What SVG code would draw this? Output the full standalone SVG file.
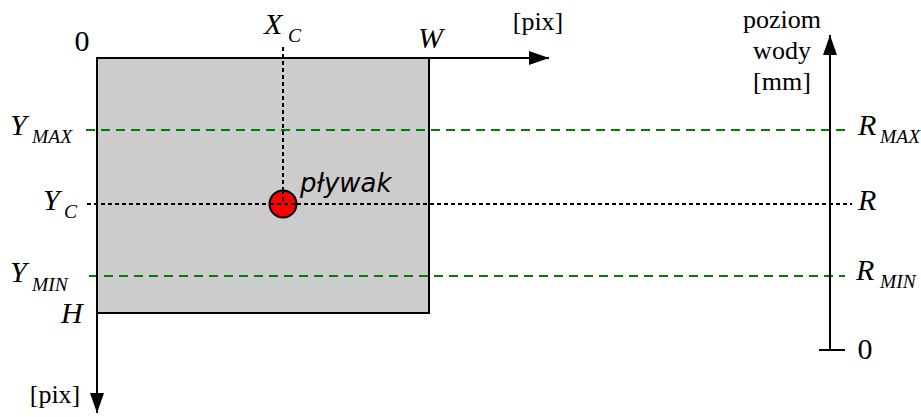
<svg xmlns="http://www.w3.org/2000/svg" width="921" height="417" viewBox="0 0 921 417">
<style>
.t{font-family:"Liberation Serif","DejaVu Serif",serif;fill:#000}
.i{font-style:italic;font-size:30px}
.s{font-style:italic;font-size:19.5px}
.n{font-size:26px}
.z{font-size:30px}
.ax{stroke:#000;stroke-width:2;fill:none}
.dot{stroke:#000;stroke-width:2;stroke-dasharray:4 3;fill:none}
.gd{stroke:#008000;stroke-width:2;stroke-dasharray:9 6;fill:none}
</style>
<defs>
<marker id="ah" viewBox="0 0 20 14" refX="20" refY="7" markerWidth="20" markerHeight="14" markerUnits="userSpaceOnUse" orient="auto">
<path d="M0,0 L20,7 L0,14 Z" fill="#000"/>
</marker>
</defs>
<g id="image">
<rect x="97" y="58" width="332" height="255" fill="#cccccc" stroke="#000" stroke-width="2"/>
</g>
<g id="connectors">
<line class="gd" x1="86" y1="130" x2="848" y2="130"/>
<line class="gd" x1="89" y1="276" x2="845" y2="276"/>
<line class="dot" x1="87" y1="204" x2="852" y2="204"/>
<line class="dot" x1="283" y1="47" x2="283" y2="204"/>
<line class="ax" x1="97" y1="58" x2="549" y2="58" marker-end="url(#ah)"/>
<line class="ax" x1="97" y1="58" x2="97" y2="413" marker-end="url(#ah)"/>
<line class="ax" x1="830" y1="350" x2="830" y2="35" marker-end="url(#ah)"/>
<line class="ax" x1="819" y1="350" x2="845" y2="350"/>
</g>
<g id="float">
<circle cx="283" cy="204" r="13.5" fill="#ff0000" stroke="#000" stroke-width="2"/>
<line class="dot" x1="283" y1="190" x2="283" y2="204"/>
<line class="dot" x1="270" y1="204" x2="297" y2="204"/>
<text x="300" y="192" font-family="DejaVu Sans, sans-serif" font-style="italic" font-size="26">pływak</text>
</g>
<g id="labels">
<text class="t z" x="82" y="51" text-anchor="middle">0</text>
<text class="t i" x="264" y="34">X</text><text class="t s" x="288" y="42">C</text>
<text class="t i" x="418" y="48">W</text>
<text class="t n" x="538" y="30" text-anchor="middle">[pix]</text>
<text class="t n" x="782" y="28" text-anchor="middle">poziom</text>
<text class="t n" x="782" y="59" text-anchor="middle">wody</text>
<text class="t n" x="782" y="90" text-anchor="middle">[mm]</text>
<text class="t i" x="10" y="135">Y</text><text class="t s" x="32" y="143">MAX</text>
<text class="t i" x="43" y="210">Y</text><text class="t s" x="64" y="218">C</text>
<text class="t i" x="10" y="282">Y</text><text class="t s" x="32" y="291">MIN</text>
<text class="t i" x="61" y="323">H</text>
<text class="t n" x="55" y="403" text-anchor="middle">[pix]</text>
<text class="t i" x="858" y="135">R</text><text class="t s" x="880" y="143">MAX</text>
<text class="t i" x="858" y="210">R</text>
<text class="t i" x="856" y="280">R</text><text class="t s" x="880" y="288">MIN</text>
<text class="t z" x="865" y="359" text-anchor="middle">0</text>
</g>
</svg>
